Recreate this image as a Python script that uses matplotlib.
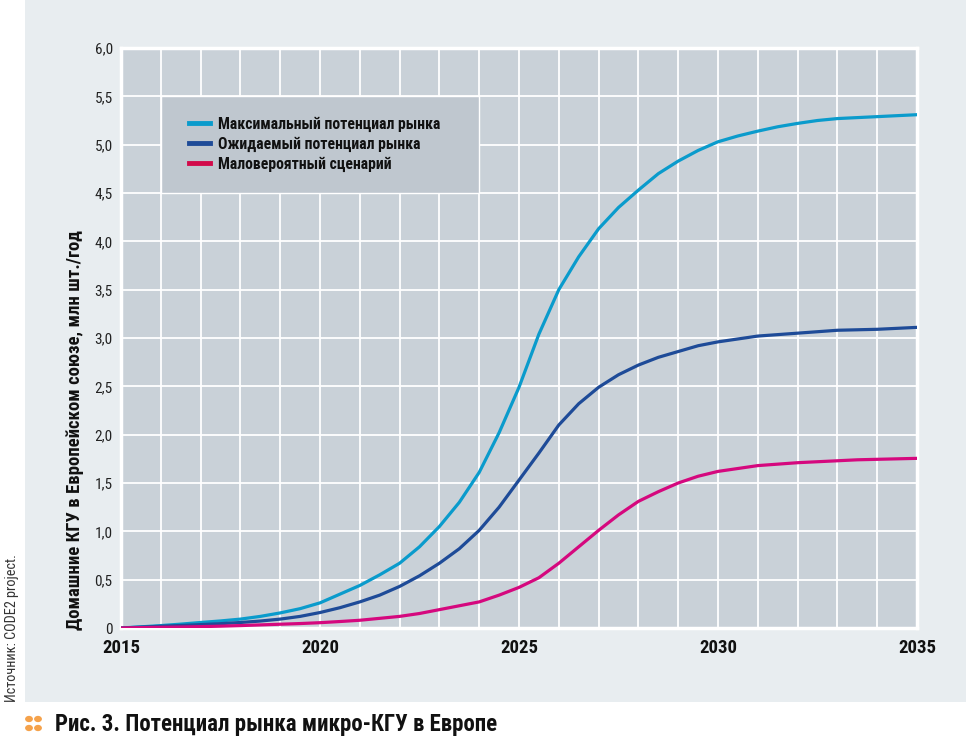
import matplotlib
matplotlib.use("Agg")
from matplotlib import pyplot as plt
from matplotlib import font_manager
from matplotlib.ft2font import FT2Font
from matplotlib.patches import Rectangle
from matplotlib.lines import Line2D

labels = ['Максимальный потенциал рынка', 'Ожидаемый потенциал рынка', 'Маловероятный сценарий']
y_label = 'Домашние КГУ в Европейском союзе, млн шт./год'
caption = 'Рис. 3. Потенциал рынка микро-КГУ в Европе'
source = 'Источник: CODE2 project.'

# pick a narrow face whose regular and bold files both cover every needed character
needed = set(''.join(labels) + y_label + caption + source + '0123456789,.-/ ')
needed.discard(' ')


def covers(path):
    try:
        cmap = FT2Font(path).get_charmap()
    except Exception:
        return False
    return all(ord(ch) in cmap for ch in needed)


chosen = []
by_name = {}
for f in font_manager.fontManager.ttflist:
    if 'Narrow' in f.name or 'Condensed' in f.name or f.stretch in ('condensed', 'semi-condensed'):
        by_name.setdefault(f.name, []).append(f)
for name in sorted(by_name, key=lambda n: ('Roboto' not in n, 'Liberation' not in n, n)):
    entries = by_name[name]
    regular = [e for e in entries if e.style == 'normal' and e.weight in (400, 'normal', 'regular') and covers(e.fname)]
    bold = [e for e in entries if e.style == 'normal' and e.weight in (700, 'bold') and covers(e.fname)]
    if regular and bold:
        chosen = [name]
        break
plt.rcParams['font.family'] = chosen + ['DejaVu Sans']
plt.rcParams['font.stretch'] = 'condensed'

years = [2015 + i / 2 for i in range(41)]
max_potential = [0.0, 0.012, 0.025, 0.04, 0.057, 0.073, 0.092, 0.12, 0.156, 0.2,
                 0.26, 0.35, 0.44, 0.55, 0.67, 0.84, 1.05, 1.3, 1.61, 2.02,
                 2.49, 3.04, 3.5, 3.84, 4.13, 4.35, 4.53, 4.7, 4.83, 4.94,
                 5.03, 5.09, 5.14, 5.185, 5.22, 5.25, 5.27, 5.28, 5.29, 5.30, 5.31]
expected = [0.0, 0.009, 0.018, 0.026, 0.035, 0.045, 0.057, 0.072, 0.092, 0.12,
            0.16, 0.21, 0.27, 0.34, 0.43, 0.54, 0.67, 0.82, 1.01, 1.25,
            1.53, 1.81, 2.1, 2.32, 2.49, 2.62, 2.72, 2.8, 2.86, 2.92,
            2.96, 2.99, 3.02, 3.035, 3.05, 3.065, 3.08, 3.085, 3.09, 3.10, 3.11]
unlikely = [0.0, 0.004, 0.007, 0.01, 0.014, 0.019, 0.025, 0.032, 0.039, 0.046,
            0.055, 0.067, 0.08, 0.1, 0.12, 0.15, 0.19, 0.23, 0.27, 0.34,
            0.42, 0.52, 0.67, 0.84, 1.01, 1.17, 1.31, 1.41, 1.5, 1.57,
            1.62, 1.65, 1.68, 1.695, 1.71, 1.72, 1.73, 1.74, 1.745, 1.75, 1.755]

colors = ['#0A9BCC', '#1E4B98', '#D5087E']
legend_colors = ['#0A9BCC', '#1E4B98', '#D20A4A']

y_ticks = [0, 0.5, 1, 1.5, 2, 2.5, 3, 3.5, 4, 4.5, 5, 5.5, 6]
y_ticklabels = ['0', '0,5', '1,0', '1,5', '2,0', '2,5', '3,0', '3,5', '4,0', '4,5', '5,0', '5,5', '6,0']
x_ticks = [2015, 2020, 2025, 2030, 2035]
grid_years = list(range(2015, 2036))

fig = plt.figure(figsize=(9.66, 7.38), dpi=100)
fig.patch.set_facecolor('white')

# light panel behind the chart
fig.patches.append(Rectangle((25 / 966, 36 / 738), 941 / 966, 702 / 738, transform=fig.transFigure,
                             facecolor='#E8EDF0', edgecolor='none', zorder=-10))

ax = fig.add_axes([121 / 966, 110 / 738, 796 / 966, 580 / 738])
ax.set_facecolor('#C9D1D8')
ax.set_xlim(2015, 2035)
ax.set_ylim(0, 6)

ax.set_xticks(x_ticks)
ax.set_xticks(grid_years, minor=True)
ax.set_xticklabels([str(x) for x in x_ticks], fontsize=13.5, fontweight='bold', color='#111111')
ax.set_yticks(y_ticks)
ax.set_yticklabels(y_ticklabels, fontsize=11, color='#222222')
ax.tick_params(axis='both', which='both', length=0)
ax.tick_params(axis='x', pad=8)
ax.tick_params(axis='y', pad=6)

ax.set_axisbelow(True)
ax.grid(True, which='both', color='white', linewidth=1.3)
for s in ax.spines.values():
    s.set_color('white')
    s.set_linewidth(2.5)

# legend background block sitting on the grid
ax.add_patch(Rectangle((2016, 4.5), 8, 1, facecolor='#BFC7CF', edgecolor='white',
                       linewidth=1.0, zorder=1))

for vals, c, lab in zip([max_potential, expected, unlikely], colors, labels):
    ax.plot(years, vals, color=c, linewidth=2.3, label=lab, zorder=3)

handles = [Line2D([], [], color=c, linewidth=3.5) for c in legend_colors]
leg = ax.legend(handles, labels, loc='upper left', bbox_to_anchor=(0.0854, 0.882),
                frameon=False, borderpad=0, borderaxespad=0, handlelength=1.35,
                handletextpad=0.5, labelspacing=0.3,
                prop={'size': 11.3, 'weight': 'bold', 'stretch': 'condensed'})
for t in leg.get_texts():
    t.set_color('#111111')

fig.text(75 / 966, 1 - 430 / 738, y_label, rotation=90, ha='center', va='center',
         fontsize=13.5, fontweight='bold', color='#111111')

fig.text(12 / 966, 1 - 628 / 738, source, rotation=90,
         ha='center', va='center', fontsize=10.3, color='#333333')

# orange dots marker before the caption
for dx in (0, 1):
    for dy in (0, 1):
        fig.patches.append(plt.Circle(((29 + dx * 9) / 966, 1 - (719 + dy * 9) / 738), 3.2 / 966,
                                      transform=fig.transFigure, color='#F5A24B'))
fig.text(55 / 966, 1 - 724 / 738, caption, ha='left', va='center',
         fontsize=16.5, fontweight='bold', color='#111111')

fig.savefig('out.png', dpi=100)
